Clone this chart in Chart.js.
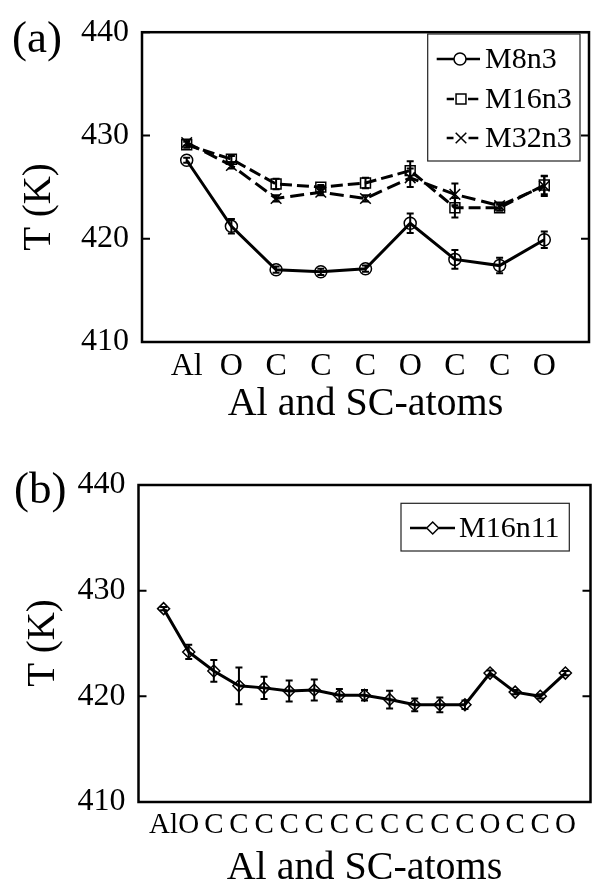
<!DOCTYPE html>
<html><head><meta charset="utf-8">
<script src="https://cdn.jsdelivr.net/npm/chart.js@4/dist/chart.umd.min.js"></script>
<style>
html,body{margin:0;padding:0;background:#fff;width:598px;height:885px;overflow:hidden;position:relative}
#wa{position:absolute;left:0;top:0;width:598px;height:440px}
#wb{position:absolute;left:0;top:440px;width:598px;height:450px}
</style></head><body>
<div id="wa"><canvas id="ca"></canvas></div>
<div id="wb"><canvas id="cb"></canvas></div>
<script>
// ---- data ----
const catsA = ['Al','O','C','C','C','O','C','C','O'];
const m8n3 = [427.6,421.2,417.0,416.8,417.1,421.5,418.0,417.4,419.9];
const m8n3Err = [0.25,0.7,0.3,0.3,0.3,0.95,0.9,0.75,0.8];
const m16n3 = [429.1,427.7,425.3,425.0,425.4,426.6,423.0,423.0,425.2];
const m16n3Err = [0.3,0.3,0.5,0.2,0.5,0.9,0.95,0.3,0.9];
const m32n3 = [429.3,427.1,423.9,424.5,423.9,425.9,424.3,423.2,425.1];
const m32n3Err = [0.3,0.3,0.3,0.3,0.3,0.9,1.05,0.3,0.95];
const catsB = ['Al','O','C','C','C','C','C','C','C','C','C','C','C','O','C','C','O'];
const m16n11 = [428.3,424.2,422.4,421.0,420.8,420.5,420.6,420.1,420.1,419.7,419.2,419.2,419.2,422.2,420.4,420.0,422.2];
const m16n11Err = [0.15,0.67,1.03,1.74,1.05,1.0,1.0,0.6,0.5,0.84,0.6,0.7,0.4,0.25,0.2,0.2,0.2];
const yTicks = [410,420,430,440];

const FONT = "'Liberation Serif','Times New Roman',serif";

function drawMarker(ctx, style, r, x, y){
  ctx.beginPath();
  if(style==='circle'){ ctx.arc(x,y,r,0,Math.PI*2); }
  else if(style==='rect'){ const s=Math.SQRT1_2*r; ctx.rect(x-s,y-s,2*s,2*s); }
  else if(style==='rectRot'){ ctx.moveTo(x-r,y); ctx.lineTo(x,y-r); ctx.lineTo(x+r,y); ctx.lineTo(x,y+r); ctx.closePath(); }
  else if(style==='crossRot'){ const s=Math.SQRT1_2*r; ctx.moveTo(x-s,y-s); ctx.lineTo(x+s,y+s); ctx.moveTo(x+s,y-s); ctx.lineTo(x-s,y+s); }
  ctx.stroke();
}

const errorBars = {
  id:'errorBars',
  afterDatasetsDraw(chart){
    const {ctx, scales:{x,y}} = chart;
    chart.data.datasets.forEach(ds=>{
      if(!ds.errors) return;
      ctx.save(); ctx.strokeStyle='#000'; ctx.lineWidth=2; ctx.setLineDash([]);
      ds.data.forEach((p,i)=>{
        const e = ds.errors[i]; if(!e) return;
        const px = x.getPixelForValue(p.x);
        const t = y.getPixelForValue(p.y+e), b = y.getPixelForValue(p.y-e);
        ctx.beginPath();
        ctx.moveTo(px,t); ctx.lineTo(px,b);
        ctx.moveTo(px-3.5,t); ctx.lineTo(px+3.5,t);
        ctx.moveTo(px-3.5,b); ctx.lineTo(px+3.5,b);
        ctx.stroke();
      });
      ctx.restore();
    });
  }
};

const frame = {
  id:'frame',
  afterDraw(chart, args, o){
    const {ctx, chartArea:a, scales:{y}} = chart;
    ctx.save();
    ctx.strokeStyle='#000'; ctx.lineWidth=2.5; ctx.setLineDash([]);
    ctx.strokeRect(a.left, a.top, a.right-a.left, a.bottom-a.top);
    ctx.lineWidth=2;
    y.ticks.forEach(t=>{
      const py = y.getPixelForValue(t.value);
      ctx.beginPath();
      ctx.moveTo(a.left,py); ctx.lineTo(a.left+8,py);
      ctx.moveTo(a.right,py); ctx.lineTo(a.right-8,py);
      ctx.stroke();
    });
    // legend
    const L = o.legend;
    ctx.lineWidth=1.2; ctx.strokeStyle='#222';
    ctx.strokeRect(L.box[0], L.box[1], L.box[2]-L.box[0], L.box[3]-L.box[1]);
    chart.data.datasets.forEach((ds,i)=>{
      const r = L.rows[i];
      ctx.strokeStyle='#000';
      ctx.lineWidth=2.5; ctx.setLineDash([]);
      ctx.beginPath(); ctx.moveTo(r.x1,r.cy); ctx.lineTo(r.mx-ds.pointRadius,r.cy);
      ctx.moveTo(r.mx+ds.pointRadius,r.cy); ctx.lineTo(r.x2,r.cy); ctx.stroke();
      ctx.lineWidth=1.5;
      drawMarker(ctx, ds.pointStyle, ds.pointRadius, r.mx, r.cy);
      ctx.fillStyle='#000'; ctx.font='30px '+FONT; ctx.textBaseline='middle'; ctx.textAlign='left';
      ctx.fillText(ds.label, L.textX, r.cy+1);
    });
    // panel label and y title
    ctx.fillStyle='#000';
    ctx.font='45px '+FONT; ctx.textBaseline='middle'; ctx.textAlign='left';
    ctx.fillText(o.panel, o.panelPos[0], o.panelPos[1]);
    ctx.save();
    ctx.translate(o.yTitlePos[0], o.yTitlePos[1]); ctx.rotate(-Math.PI/2);
    ctx.font='39px '+FONT; ctx.textAlign='center'; ctx.textBaseline='middle';
    ctx.fillText('T (K)',0,0);
    ctx.restore();
    ctx.restore();
  }
};

function makeYScale(width){
  return {
    type:'linear', min:410, max:440,
    afterBuildTicks:s=>{ s.ticks = yTicks.map(v=>({value:v})); },
    afterFit:s=>{ s.width = width; },
    grid:{display:false, drawTicks:false}, border:{display:false},
    ticks:{font:{family:FONT,size:32}, color:'#000', padding:13}
  };
}
function makeXScale(cats, height, tickSize, tickPad, titlePad){
  return {
    type:'linear', min:-1, max:cats.length,
    afterBuildTicks:s=>{ s.ticks = cats.map((c,i)=>({value:i})); },
    afterFit:s=>{ s.height = height; },
    grid:{display:false, drawTicks:false}, border:{display:false},
    ticks:{font:{family:FONT,size:tickSize}, color:'#000', padding:tickPad, autoSkip:false, maxRotation:0, minRotation:0,
      callback:v=>cats[v] ?? ''},
    title:{display:true, text:'Al and SC-atoms', color:'#000', font:{family:FONT,size:40,lineHeight:1.1}, padding:{top:0,bottom:titlePad}}
  };
}
const pts = arr => arr.map((v,i)=>({x:i,y:v}));

Chart.defaults.font.family = FONT;

new Chart(document.getElementById('ca'), {
  type:'line',
  data:{datasets:[
    {label:'M8n3', data:pts(m8n3), errors:m8n3Err, borderColor:'#000', borderWidth:3, tension:0,
     pointStyle:'circle', pointRadius:6, pointBorderWidth:1.5, pointBorderColor:'#000', pointBackgroundColor:'rgba(0,0,0,0)'},
    {label:'M16n3', data:pts(m16n3), errors:m16n3Err, borderColor:'#000', borderWidth:3, borderDash:[12,5], tension:0,
     pointStyle:'rect', pointRadius:7, pointBorderWidth:1.5, pointBorderColor:'#000', pointBackgroundColor:'rgba(0,0,0,0)'},
    {label:'M32n3', data:pts(m32n3), errors:m32n3Err, borderColor:'#000', borderWidth:3, borderDash:[14,6], tension:0,
     pointStyle:'crossRot', pointRadius:7.5, pointBorderWidth:1.5, pointBorderColor:'#000', pointBackgroundColor:'rgba(0,0,0,0)'}
  ]},
  options:{
    responsive:true, maintainAspectRatio:false, animation:false,
    layout:{padding:{top:28,right:6,left:0,bottom:0}},
    scales:{x:makeXScale(catsA,98,32,5,14), y:makeYScale(142)},
    plugins:{legend:{display:false}, tooltip:{enabled:false},
      frame:{panel:'(a)', panelPos:[12,40], yTitlePos:[40,207],
        legend:{box:[427.7,34,580,161], textX:485,
          rows:[{cy:59,x1:436.7,x2:480,mx:460},{cy:99,x1:446.7,x2:478.3,mx:461},{cy:138,x1:446.7,x2:478.3,mx:461}]}}}
  },
  plugins:[errorBars, frame]
});

new Chart(document.getElementById('cb'), {
  type:'line',
  data:{datasets:[
    {label:'M16n11', data:pts(m16n11), errors:m16n11Err, borderColor:'#000', borderWidth:3, tension:0,
     pointStyle:'rectRot', pointRadius:6, pointBorderWidth:1.5, pointBorderColor:'#000', pointBackgroundColor:'rgba(0,0,0,0)'}
  ]},
  options:{
    responsive:true, maintainAspectRatio:false, animation:false,
    layout:{padding:{top:45,right:5.3,left:0,bottom:0}},
    scales:{x:makeXScale(catsB,88,29,6,0), y:makeYScale(138.5)},
    plugins:{legend:{display:false}, tooltip:{enabled:false},
      frame:{panel:'(b)', panelPos:[14,51], yTitlePos:[44,203],
        legend:{box:[401,63.3,569.3,111], textX:459,
          rows:[{cy:88,x1:410,x2:455,mx:432.7}]}}}
  },
  plugins:[errorBars, frame]
});
</script>
</body></html>
